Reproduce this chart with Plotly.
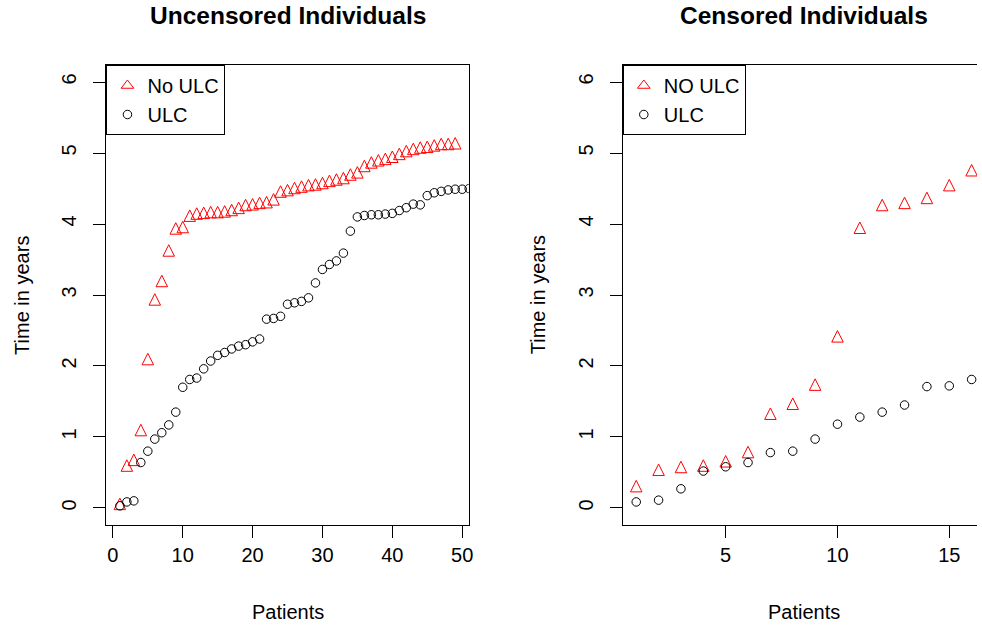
import plotly.graph_objects as go

# Survival times (years), sorted within each group
noulc_uncensored = [0.03, 0.57, 0.65, 1.07, 2.07, 2.91, 3.17, 3.60, 3.91, 3.93,
                    4.09, 4.12, 4.13, 4.14, 4.14, 4.15, 4.17, 4.20, 4.24, 4.25,
                    4.27, 4.28, 4.32, 4.43, 4.45, 4.48, 4.50, 4.52, 4.53, 4.55,
                    4.58, 4.60, 4.62, 4.67, 4.70, 4.79, 4.84, 4.87, 4.89, 4.92,
                    4.96, 5.00, 5.03, 5.05, 5.06, 5.08, 5.10, 5.10, 5.11]
ulc_uncensored = [0.03, 0.085, 0.10, 0.64, 0.80, 0.97, 1.06, 1.17, 1.35, 1.70,
                  1.81, 1.83, 1.96, 2.07, 2.15, 2.19, 2.24, 2.28, 2.30, 2.34,
                  2.38, 2.66, 2.67, 2.70, 2.87, 2.89, 2.91, 2.96, 3.17, 3.36,
                  3.43, 3.48, 3.59, 3.90, 4.10, 4.12, 4.13, 4.13, 4.14, 4.15,
                  4.19, 4.23, 4.28, 4.27, 4.40, 4.44, 4.46, 4.48, 4.49, 4.49,
                  4.50]
noulc_censored = [0.28, 0.51, 0.55, 0.57, 0.63, 0.76, 1.30, 1.44, 1.71, 2.39,
                  3.92, 4.24, 4.27, 4.34, 4.52, 4.73]
ulc_censored = [0.085, 0.11, 0.27, 0.52, 0.58, 0.64, 0.78, 0.80, 0.97, 1.18,
                1.28, 1.35, 1.45, 1.71, 1.72, 1.81]

y_ticks = [0, 1, 2, 3, 4, 5, 6]
x_ticks_left = [0, 10, 20, 30, 40, 50]
x_ticks_right = [5, 10, 15]

W, H = 982, 625
FONT = "Liberation Sans, Arial, sans-serif"
RED = "#FF0000"
BLACK = "#000000"

# plot boxes in pixels
L_BOX = (107, 471)
R_BOX = (626, 982)
TOP, BOTTOM = 65, 525


def px_x(p):
    return p / W


def px_y(p):
    return 1 - p / H


def patients(vals):
    return list(range(1, len(vals) + 1))


# open triangle centred on its centroid: a down arrow turned half a turn
# points up, and the standoff lifts it so the centroid sits on the value
tri = dict(symbol="arrow-down", angle=180, size=11.5, color="rgba(0,0,0,0)",
           line=dict(color=RED, width=1), standoff=7.7)
circ = dict(symbol="circle-open", size=8.5, color=BLACK, line=dict(width=1))
# legend keys (the legend ignores the standoff, so use a plain triangle)
tri_key = dict(symbol="triangle-up-open", size=11, color=RED,
               line=dict(width=1))

fig = go.Figure()


def add_group(xs, ys, name, marker, key_marker, xa, ya, leg):
    fig.add_trace(go.Scatter(x=xs, y=ys, mode="markers", marker=marker,
                             name=name, xaxis=xa, yaxis=ya,
                             showlegend=False))
    fig.add_trace(go.Scatter(x=[None], y=[None], mode="markers",
                             marker=key_marker, name=name, xaxis=xa,
                             yaxis=ya, legend=leg))


add_group(patients(noulc_uncensored), noulc_uncensored, "No ULC", tri,
          tri_key, "x", "y", "legend")
add_group(patients(ulc_uncensored), ulc_uncensored, "ULC", circ, circ,
          "x", "y", "legend")
add_group(patients(noulc_censored), noulc_censored, "NO ULC", tri,
          tri_key, "x2", "y2", "legend2")
add_group(patients(ulc_censored), ulc_censored, "ULC", circ, circ,
          "x2", "y2", "legend2")

axis_font = dict(family=FONT, size=20, color=BLACK)
common_x = dict(showgrid=False, zeroline=False, showline=True, mirror=True,
                linecolor=BLACK, linewidth=1, ticks="outside", ticklen=12,
                tickcolor=BLACK, tickfont=axis_font)
common_y = dict(showgrid=False, zeroline=False, showline=True,
                linecolor=BLACK, linewidth=1, ticks="outside", ticklen=12,
                tickcolor=BLACK, tickfont=axis_font, tickangle=-90,
                range=[-0.24, 6.24], tickvals=y_ticks, ticklabelstandoff=9)

y_dom = [px_y(BOTTOM), px_y(TOP)]
legend_style = dict(bordercolor=BLACK, borderwidth=1, bgcolor="white",
                    font=dict(family=FONT, size=20, color=BLACK),
                    xanchor="left", yanchor="top", y=px_y(TOP),
                    tracegroupgap=0, itemsizing="trace")

fig.update_layout(
    width=W, height=H,
    margin=dict(l=0, r=0, t=0, b=0),
    paper_bgcolor="white", plot_bgcolor="white",
    font=dict(family=FONT, size=20, color=BLACK),
    xaxis=dict(common_x, domain=[px_x(L_BOX[0]), px_x(L_BOX[1])],
               range=[-0.92, 50.92], tickvals=x_ticks_left),
    yaxis=dict(common_y, domain=y_dom, anchor="x", mirror=True),
    xaxis2=dict(common_x, domain=[px_x(R_BOX[0]), px_x(R_BOX[1])],
                range=[0.4, 16.24], tickvals=x_ticks_right, anchor="y2"),
    yaxis2=dict(common_y, domain=y_dom, anchor="x2", mirror=False),
    legend=dict(legend_style, x=px_x(L_BOX[0])),
    legend2=dict(legend_style, x=px_x(R_BOX[0])),
)

annotations = [
    dict(text="Uncensored Individuals", x=px_x(289), y=px_y(15),
         font=dict(family=FONT, size=24.5, weight="bold")),
    dict(text="Censored Individuals", x=px_x(808), y=px_y(15),
         font=dict(family=FONT, size=24.5, weight="bold")),
    dict(text="Patients", x=px_x(289), y=px_y(612), font=axis_font),
    dict(text="Patients", x=px_x(808), y=px_y(612), font=axis_font),
    dict(text="Time in years", x=px_x(22), y=px_y(295), font=axis_font,
         textangle=-90),
    dict(text="Time in years", x=px_x(541), y=px_y(295), font=axis_font,
         textangle=-90),
]
for a in annotations:
    a.update(xref="paper", yref="paper", showarrow=False,
             xanchor="center", yanchor="middle")
fig.update_layout(annotations=annotations)

fig.write_html("out.html")
